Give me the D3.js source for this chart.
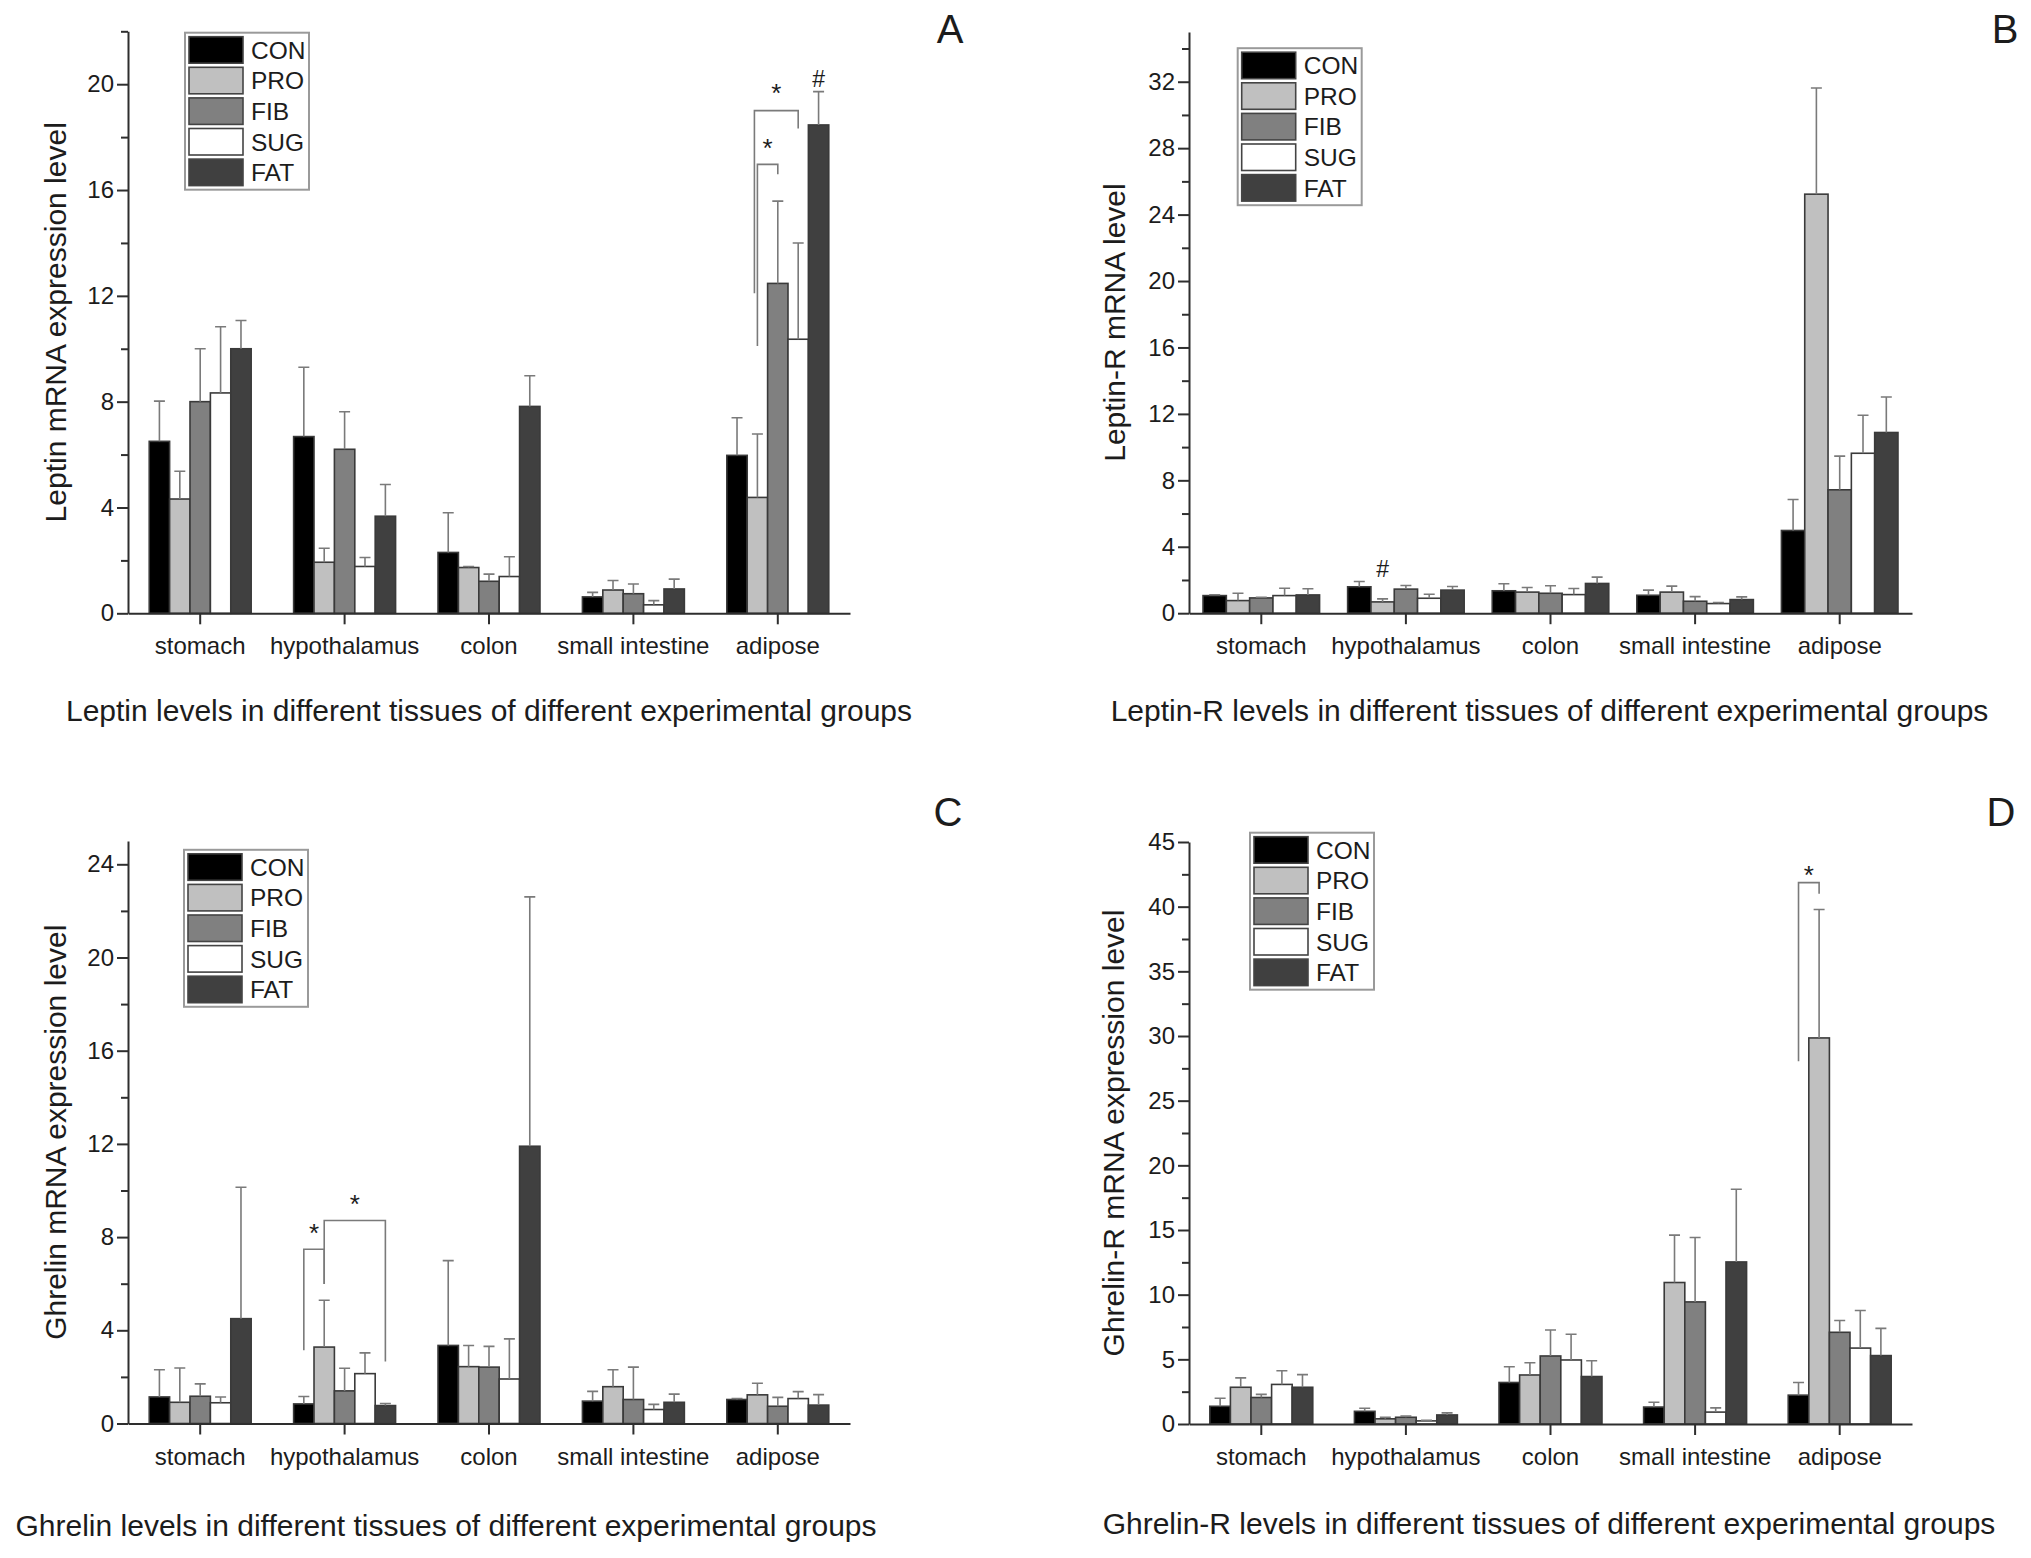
<!DOCTYPE html>
<html><head><meta charset="utf-8">
<script src="https://cdn.jsdelivr.net/npm/d3@7"></script>
<style>
body{margin:0;background:#fff}
svg{display:block}
text{font-family:Arial,"Liberation Sans",Helvetica,sans-serif;fill:#1c1c1c}
</style>
</head><body>
<svg id="chart" width="2031" height="1558"></svg>
<script>
// ---------------- DATA ----------------
const categories = ["stomach", "hypothalamus", "colon", "small intestine", "adipose"];
const groups = ["CON", "PRO", "FIB", "SUG", "FAT"];

// A: Leptin (rows = groups, columns = categories)
const leptinMean = [
  [6.50, 6.68, 2.30, 0.62, 5.97],
  [4.32, 1.93, 1.73, 0.88, 4.38],
  [8.00, 6.20, 1.21, 0.74, 12.47],
  [8.33, 1.77, 1.39, 0.32, 10.36],
  [10.00, 3.67, 7.82, 0.92, 18.46]
];
const leptinErr = [
  [1.52, 2.62, 1.50, 0.17, 1.42],
  [1.05, 0.53, 0.04, 0.36, 2.40],
  [2.00, 1.42, 0.27, 0.37, 3.11],
  [2.50, 0.34, 0.75, 0.16, 3.64],
  [1.07, 1.20, 1.16, 0.37, 1.26]
];
// B: Leptin-R
const leptinRMean = [
  [1.06, 1.59, 1.35, 1.08, 4.98],
  [0.76, 0.68, 1.27, 1.27, 25.23],
  [0.92, 1.45, 1.20, 0.72, 7.43],
  [1.06, 0.90, 1.12, 0.58, 9.63],
  [1.10, 1.39, 1.79, 0.82, 10.88]
];
const leptinRErr = [
  [0.05, 0.32, 0.42, 0.31, 1.87],
  [0.44, 0.18, 0.28, 0.36, 6.39],
  [0.04, 0.22, 0.45, 0.28, 2.03],
  [0.44, 0.24, 0.37, 0.06, 2.29],
  [0.37, 0.22, 0.38, 0.16, 2.14]
];
// C: Ghrelin
const ghrelinMean = [
  [1.14, 0.84, 3.35, 0.96, 1.03],
  [0.91, 3.28, 2.44, 1.58, 1.23],
  [1.17, 1.40, 2.42, 1.03, 0.74],
  [0.89, 2.14, 1.91, 0.60, 1.07],
  [4.50, 0.77, 11.90, 0.91, 0.79]
];
const ghrelinErr = [
  [1.17, 0.32, 3.64, 0.42, 0.04],
  [1.47, 2.01, 0.91, 0.73, 0.50],
  [0.53, 0.97, 0.89, 1.39, 0.38],
  [0.25, 0.89, 1.72, 0.22, 0.30],
  [5.64, 0.09, 10.70, 0.35, 0.45]
];
// D: Ghrelin-R
const ghrelinRMean = [
  [1.37, 0.98, 3.21, 1.31, 2.23],
  [2.84, 0.40, 3.79, 10.94, 29.85],
  [2.05, 0.52, 5.26, 9.44, 7.09],
  [3.06, 0.24, 4.95, 0.92, 5.87],
  [2.84, 0.70, 3.67, 12.53, 5.29]
];
const ghrelinRErr = [
  [0.62, 0.24, 1.22, 0.37, 0.98],
  [0.73, 0.12, 0.95, 3.66, 9.93],
  [0.24, 0.09, 2.01, 4.98, 0.91],
  [1.06, 0.05, 1.99, 0.33, 2.90],
  [0.98, 0.16, 1.22, 5.62, 2.10]
];

// significance brackets (values in data units)
const leptinBrackets = [
  {cat: "adipose", from: "PRO", to: "FIB", top: 16.97, fromBase: 10.1, toBase: 16.6, star: 17.8},
  {cat: "adipose", from: "PRO", to: "SUG", top: 19.0, fromBase: 12.1, toBase: 18.33, star: 19.9}
];
const leptinRBrackets = [];
const ghrelinBrackets = [
  {cat: "hypothalamus", from: "CON", to: "PRO", top: 7.48, fromBase: 3.14, toBase: 5.99, star: 8.44},
  {cat: "hypothalamus", from: "PRO", to: "FAT", top: 8.71, fromBase: 5.99, toBase: 2.66, star: 9.67}
];
const ghrelinRBrackets = [
  {cat: "adipose", from: "CON", to: "PRO", top: 41.86, fromBase: 28.05, toBase: 41.0, star: 42.9}
];
const leptinMarks = [{cat: "adipose", group: "FAT", value: 20.2, text: "#"}];
const leptinRMarks = [{cat: "hypothalamus", group: "PRO", value: 2.65, text: "#"}];
const ghrelinMarks = [];
const ghrelinRMarks = [];

// ---------------- STYLE ----------------
const fills = {CON: "#000000", PRO: "#c0c0c0", FIB: "#808080", SUG: "#ffffff", FAT: "#404040"};
const barStroke = "#3a3a3a";
const errColor = "#7a7a7a";
const axisColor = "#2e2e2e";

const svg = d3.select("#chart");

function drawPanel(cfg, means, errs, brackets, marks) {
  const g = svg.append("g");
  const x = d3.scaleBand().domain(categories).range([cfg.x0, cfg.x1]).padding(0);
  const y = d3.scaleLinear().domain([0, cfg.max]).range([cfg.yZero, cfg.yTop]);
  const gw = x.bandwidth() * cfg.frac;
  const xi = d3.scaleBand().domain(groups).range([-gw / 2, gw / 2]).padding(0);
  const bw = xi.bandwidth();
  const cx = (cat, grp) => x(cat) + x.bandwidth() / 2 + xi(grp) + bw / 2;

  const rows = [];
  groups.forEach((grp, gi) => categories.forEach((cat, ci) => {
    rows.push({grp, cat, v: means[gi][ci], e: errs[gi][ci]});
  }));

  // bars
  g.append("g").selectAll("rect").data(rows).join("rect")
    .attr("x", d => cx(d.cat, d.grp) - bw / 2)
    .attr("y", d => y(d.v))
    .attr("width", bw)
    .attr("height", d => y(0) - y(d.v))
    .attr("fill", d => fills[d.grp])
    .attr("stroke", barStroke).attr("stroke-width", 1.6);

  // error bars
  const eg = g.append("g").attr("stroke", errColor).attr("stroke-width", 1.6).attr("fill", "none");
  eg.selectAll("path").data(rows).join("path")
    .attr("d", d => {
      const c = cx(d.cat, d.grp), yt = y(d.v + d.e), yb = y(d.v);
      return `M${c},${yb}V${yt}M${c - 5.5},${yt}H${c + 5.5}`;
    });

  // brackets
  const bg = g.append("g");
  brackets.forEach((b, i) => {
    const same = brackets.slice(0, i).filter(o => o.from === b.from && o.cat === b.cat).length;
    const xl = cx(b.cat, b.from) - 3 * same;
    const xr = cx(b.cat, b.to);
    bg.append("path")
      .attr("d", `M${xl},${y(b.fromBase)}V${y(b.top)}H${xr}V${y(b.toBase)}`)
      .attr("fill", "none").attr("stroke", errColor).attr("stroke-width", 1.6);
    bg.append("text").attr("x", (xl + xr) / 2).attr("y", y(b.star) + 15)
      .attr("text-anchor", "middle").attr("font-size", 26).text("*");
  });
  marks.forEach(m => {
    g.append("text").attr("x", cx(m.cat, m.group)).attr("y", y(m.value) + 8.3)
      .attr("text-anchor", "middle").attr("font-size", 23).text(m.text);
  });

  // axes
  const majors = d3.range(0, cfg.max + 1e-9, cfg.major);
  const minors = d3.range(cfg.minor, cfg.max + 1e-9, cfg.major);
  const ya = g.append("g").attr("transform", `translate(${cfg.x0},0)`)
    .call(d3.axisLeft(y).tickValues(majors).tickSize(11).tickSizeOuter(0).tickPadding(3).tickFormat(d3.format("d")));
  const ym = g.append("g").attr("transform", `translate(${cfg.x0},0)`)
    .call(d3.axisLeft(y).tickValues(minors).tickSize(7).tickSizeOuter(0).tickFormat(""));
  ym.select(".domain").remove();
  const xa = g.append("g").attr("transform", `translate(0,${cfg.yZero})`)
    .call(d3.axisBottom(x).tickSize(11).tickSizeOuter(0).tickPadding(13));
  [ya, ym, xa].forEach(a => {
    a.selectAll("path,line").attr("stroke", axisColor).attr("stroke-width", 2);
    a.selectAll("text").attr("fill", "#1c1c1c").style("font-family", "Arial, 'Liberation Sans', sans-serif");
  });
  ya.selectAll("text").attr("font-size", 24);
  xa.selectAll("text").attr("font-size", 24);

  // y label
  g.append("text").attr("transform", `translate(${cfg.yLabel.x},${(cfg.yTop + cfg.yZero) / 2}) rotate(-90)`)
    .attr("text-anchor", "middle").attr("font-size", 30).text(cfg.yLabel.t);

  // title below
  g.append("text").attr("x", cfg.title.x).attr("y", cfg.title.y)
    .attr("text-anchor", "middle").attr("font-size", 30).text(cfg.title.t);

  // panel letter
  g.append("text").attr("x", cfg.letter.x).attr("y", cfg.letter.y)
    .attr("text-anchor", "middle").attr("font-size", 40).text(cfg.letter.t);

  // legend
  const lg = g.append("g").attr("transform", `translate(${cfg.legend[0]},${cfg.legend[1]})`);
  lg.append("rect").attr("x", 0).attr("y", 0).attr("width", 124).attr("height", 157)
    .attr("fill", "#fff").attr("stroke", "#9a9a9a").attr("stroke-width", 2);
  groups.forEach((grp, i) => {
    lg.append("rect").attr("x", 4).attr("y", 4 + i * 30.6).attr("width", 54).attr("height", 26.5)
      .attr("fill", fills[grp]).attr("stroke", "#444").attr("stroke-width", 1.6);
    lg.append("text").attr("x", 66).attr("y", 4 + i * 30.6 + 13.25 + 8.8)
      .attr("font-size", 24.5).text(grp);
  });
}

drawPanel({x0: 128, x1: 850, yTop: 31.3, yZero: 613.3, max: 22, major: 4, minor: 2, frac: 0.706,
  legend: [185, 32.7], letter: {t: "A", x: 950, y: 43},
  yLabel: {t: "Leptin mRNA expression level", x: 66},
  title: {t: "Leptin levels in different tissues of different experimental groups", x: 489, y: 721}},
  leptinMean, leptinErr, leptinBrackets, leptinMarks);

drawPanel({x0: 1189, x1: 1912, yTop: 31.9, yZero: 613.2, max: 35, major: 4, minor: 2, frac: 0.806,
  legend: [1237.7, 48.2], letter: {t: "B", x: 2005, y: 43},
  yLabel: {t: "Leptin-R mRNA level", x: 1125},
  title: {t: "Leptin-R levels in different tissues of different experimental groups", x: 1549.5, y: 720.5}},
  leptinRMean, leptinRErr, leptinRBrackets, leptinRMarks);

drawPanel({x0: 128, x1: 850, yTop: 841, yZero: 1423.5, max: 25, major: 4, minor: 2, frac: 0.706,
  legend: [184, 849.8], letter: {t: "C", x: 948, y: 826},
  yLabel: {t: "Ghrelin mRNA expression level", x: 66},
  title: {t: "Ghrelin levels in different tissues of different experimental groups", x: 446, y: 1536}},
  ghrelinMean, ghrelinErr, ghrelinBrackets, ghrelinMarks);

drawPanel({x0: 1189, x1: 1912, yTop: 842, yZero: 1424, max: 45, major: 5, minor: 2.5, frac: 0.712,
  legend: [1250, 832.7], letter: {t: "D", x: 2001, y: 826},
  yLabel: {t: "Ghrelin-R mRNA expression level", x: 1124},
  title: {t: "Ghrelin-R levels in different tissues of different experimental groups", x: 1549, y: 1534}},
  ghrelinRMean, ghrelinRErr, ghrelinRBrackets, ghrelinRMarks);
</script>
</body></html>
